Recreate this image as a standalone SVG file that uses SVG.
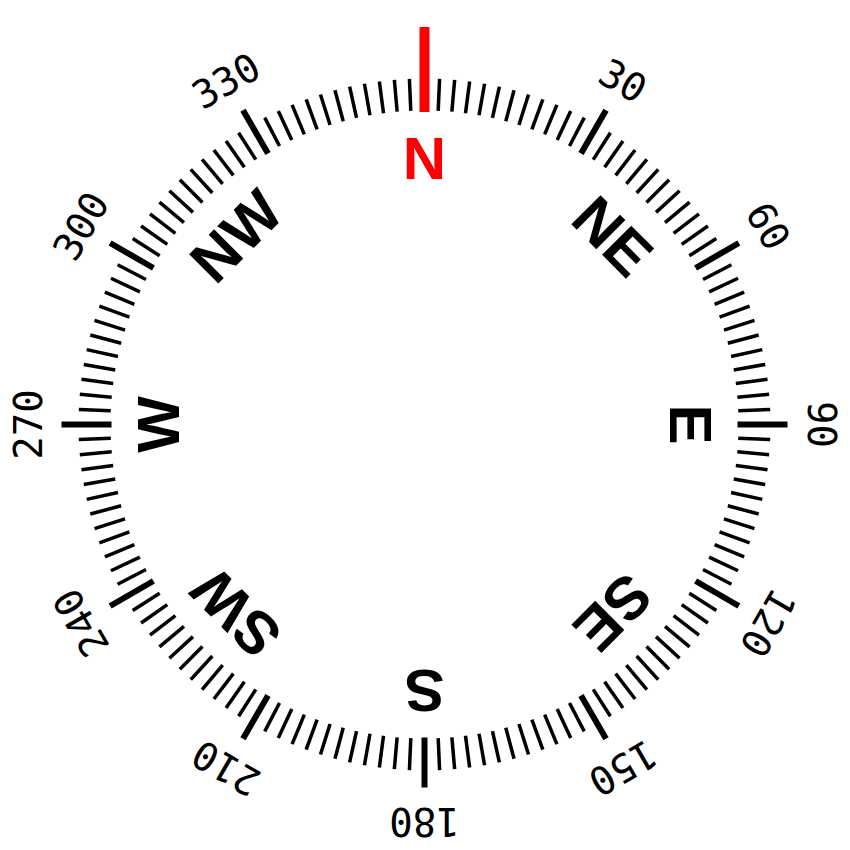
<svg xmlns="http://www.w3.org/2000/svg" xmlns:xlink="http://www.w3.org/1999/xlink" width="850" height="850" viewBox="0 0 850 850">
<style>
.num{font-family:"DejaVu Sans Mono","Liberation Mono",monospace;font-size:39px;fill:#000;text-anchor:middle}
.dir{font-family:"Liberation Sans",Arial,sans-serif;font-weight:bold;font-size:60px;fill:#000;text-anchor:middle}
.minor{stroke:#000;stroke-width:3.5}
.major{stroke:#000;stroke-width:6}
</style>
<defs>
<line id="m" class="minor" x1="424.5" y1="110.5" x2="424.5" y2="78.5"/>
<line id="M" class="major" x1="424.5" y1="111.5" x2="424.5" y2="61.5"/>
</defs>
<rect width="850" height="850" fill="#fff"/>
<g id="ticks">
<use xlink:href="#m" transform="rotate(2.5 424.5 424.5)"/><use xlink:href="#m" transform="rotate(5 424.5 424.5)"/><use xlink:href="#m" transform="rotate(7.5 424.5 424.5)"/><use xlink:href="#m" transform="rotate(10 424.5 424.5)"/><use xlink:href="#m" transform="rotate(12.5 424.5 424.5)"/><use xlink:href="#m" transform="rotate(15 424.5 424.5)"/><use xlink:href="#m" transform="rotate(17.5 424.5 424.5)"/><use xlink:href="#m" transform="rotate(20 424.5 424.5)"/><use xlink:href="#m" transform="rotate(22.5 424.5 424.5)"/><use xlink:href="#m" transform="rotate(25 424.5 424.5)"/><use xlink:href="#m" transform="rotate(27.5 424.5 424.5)"/>
<use xlink:href="#m" transform="rotate(32.5 424.5 424.5)"/><use xlink:href="#m" transform="rotate(35 424.5 424.5)"/><use xlink:href="#m" transform="rotate(37.5 424.5 424.5)"/><use xlink:href="#m" transform="rotate(40 424.5 424.5)"/><use xlink:href="#m" transform="rotate(42.5 424.5 424.5)"/><use xlink:href="#m" transform="rotate(45 424.5 424.5)"/><use xlink:href="#m" transform="rotate(47.5 424.5 424.5)"/><use xlink:href="#m" transform="rotate(50 424.5 424.5)"/><use xlink:href="#m" transform="rotate(52.5 424.5 424.5)"/><use xlink:href="#m" transform="rotate(55 424.5 424.5)"/><use xlink:href="#m" transform="rotate(57.5 424.5 424.5)"/>
<use xlink:href="#m" transform="rotate(62.5 424.5 424.5)"/><use xlink:href="#m" transform="rotate(65 424.5 424.5)"/><use xlink:href="#m" transform="rotate(67.5 424.5 424.5)"/><use xlink:href="#m" transform="rotate(70 424.5 424.5)"/><use xlink:href="#m" transform="rotate(72.5 424.5 424.5)"/><use xlink:href="#m" transform="rotate(75 424.5 424.5)"/><use xlink:href="#m" transform="rotate(77.5 424.5 424.5)"/><use xlink:href="#m" transform="rotate(80 424.5 424.5)"/><use xlink:href="#m" transform="rotate(82.5 424.5 424.5)"/><use xlink:href="#m" transform="rotate(85 424.5 424.5)"/><use xlink:href="#m" transform="rotate(87.5 424.5 424.5)"/>
<use xlink:href="#m" transform="rotate(92.5 424.5 424.5)"/><use xlink:href="#m" transform="rotate(95 424.5 424.5)"/><use xlink:href="#m" transform="rotate(97.5 424.5 424.5)"/><use xlink:href="#m" transform="rotate(100 424.5 424.5)"/><use xlink:href="#m" transform="rotate(102.5 424.5 424.5)"/><use xlink:href="#m" transform="rotate(105 424.5 424.5)"/><use xlink:href="#m" transform="rotate(107.5 424.5 424.5)"/><use xlink:href="#m" transform="rotate(110 424.5 424.5)"/><use xlink:href="#m" transform="rotate(112.5 424.5 424.5)"/><use xlink:href="#m" transform="rotate(115 424.5 424.5)"/><use xlink:href="#m" transform="rotate(117.5 424.5 424.5)"/>
<use xlink:href="#m" transform="rotate(122.5 424.5 424.5)"/><use xlink:href="#m" transform="rotate(125 424.5 424.5)"/><use xlink:href="#m" transform="rotate(127.5 424.5 424.5)"/><use xlink:href="#m" transform="rotate(130 424.5 424.5)"/><use xlink:href="#m" transform="rotate(132.5 424.5 424.5)"/><use xlink:href="#m" transform="rotate(135 424.5 424.5)"/><use xlink:href="#m" transform="rotate(137.5 424.5 424.5)"/><use xlink:href="#m" transform="rotate(140 424.5 424.5)"/><use xlink:href="#m" transform="rotate(142.5 424.5 424.5)"/><use xlink:href="#m" transform="rotate(145 424.5 424.5)"/><use xlink:href="#m" transform="rotate(147.5 424.5 424.5)"/>
<use xlink:href="#m" transform="rotate(152.5 424.5 424.5)"/><use xlink:href="#m" transform="rotate(155 424.5 424.5)"/><use xlink:href="#m" transform="rotate(157.5 424.5 424.5)"/><use xlink:href="#m" transform="rotate(160 424.5 424.5)"/><use xlink:href="#m" transform="rotate(162.5 424.5 424.5)"/><use xlink:href="#m" transform="rotate(165 424.5 424.5)"/><use xlink:href="#m" transform="rotate(167.5 424.5 424.5)"/><use xlink:href="#m" transform="rotate(170 424.5 424.5)"/><use xlink:href="#m" transform="rotate(172.5 424.5 424.5)"/><use xlink:href="#m" transform="rotate(175 424.5 424.5)"/><use xlink:href="#m" transform="rotate(177.5 424.5 424.5)"/>
<use xlink:href="#m" transform="rotate(182.5 424.5 424.5)"/><use xlink:href="#m" transform="rotate(185 424.5 424.5)"/><use xlink:href="#m" transform="rotate(187.5 424.5 424.5)"/><use xlink:href="#m" transform="rotate(190 424.5 424.5)"/><use xlink:href="#m" transform="rotate(192.5 424.5 424.5)"/><use xlink:href="#m" transform="rotate(195 424.5 424.5)"/><use xlink:href="#m" transform="rotate(197.5 424.5 424.5)"/><use xlink:href="#m" transform="rotate(200 424.5 424.5)"/><use xlink:href="#m" transform="rotate(202.5 424.5 424.5)"/><use xlink:href="#m" transform="rotate(205 424.5 424.5)"/><use xlink:href="#m" transform="rotate(207.5 424.5 424.5)"/>
<use xlink:href="#m" transform="rotate(212.5 424.5 424.5)"/><use xlink:href="#m" transform="rotate(215 424.5 424.5)"/><use xlink:href="#m" transform="rotate(217.5 424.5 424.5)"/><use xlink:href="#m" transform="rotate(220 424.5 424.5)"/><use xlink:href="#m" transform="rotate(222.5 424.5 424.5)"/><use xlink:href="#m" transform="rotate(225 424.5 424.5)"/><use xlink:href="#m" transform="rotate(227.5 424.5 424.5)"/><use xlink:href="#m" transform="rotate(230 424.5 424.5)"/><use xlink:href="#m" transform="rotate(232.5 424.5 424.5)"/><use xlink:href="#m" transform="rotate(235 424.5 424.5)"/><use xlink:href="#m" transform="rotate(237.5 424.5 424.5)"/>
<use xlink:href="#m" transform="rotate(242.5 424.5 424.5)"/><use xlink:href="#m" transform="rotate(245 424.5 424.5)"/><use xlink:href="#m" transform="rotate(247.5 424.5 424.5)"/><use xlink:href="#m" transform="rotate(250 424.5 424.5)"/><use xlink:href="#m" transform="rotate(252.5 424.5 424.5)"/><use xlink:href="#m" transform="rotate(255 424.5 424.5)"/><use xlink:href="#m" transform="rotate(257.5 424.5 424.5)"/><use xlink:href="#m" transform="rotate(260 424.5 424.5)"/><use xlink:href="#m" transform="rotate(262.5 424.5 424.5)"/><use xlink:href="#m" transform="rotate(265 424.5 424.5)"/><use xlink:href="#m" transform="rotate(267.5 424.5 424.5)"/>
<use xlink:href="#m" transform="rotate(272.5 424.5 424.5)"/><use xlink:href="#m" transform="rotate(275 424.5 424.5)"/><use xlink:href="#m" transform="rotate(277.5 424.5 424.5)"/><use xlink:href="#m" transform="rotate(280 424.5 424.5)"/><use xlink:href="#m" transform="rotate(282.5 424.5 424.5)"/><use xlink:href="#m" transform="rotate(285 424.5 424.5)"/><use xlink:href="#m" transform="rotate(287.5 424.5 424.5)"/><use xlink:href="#m" transform="rotate(290 424.5 424.5)"/><use xlink:href="#m" transform="rotate(292.5 424.5 424.5)"/><use xlink:href="#m" transform="rotate(295 424.5 424.5)"/><use xlink:href="#m" transform="rotate(297.5 424.5 424.5)"/>
<use xlink:href="#m" transform="rotate(302.5 424.5 424.5)"/><use xlink:href="#m" transform="rotate(305 424.5 424.5)"/><use xlink:href="#m" transform="rotate(307.5 424.5 424.5)"/><use xlink:href="#m" transform="rotate(310 424.5 424.5)"/><use xlink:href="#m" transform="rotate(312.5 424.5 424.5)"/><use xlink:href="#m" transform="rotate(315 424.5 424.5)"/><use xlink:href="#m" transform="rotate(317.5 424.5 424.5)"/><use xlink:href="#m" transform="rotate(320 424.5 424.5)"/><use xlink:href="#m" transform="rotate(322.5 424.5 424.5)"/><use xlink:href="#m" transform="rotate(325 424.5 424.5)"/><use xlink:href="#m" transform="rotate(327.5 424.5 424.5)"/>
<use xlink:href="#m" transform="rotate(332.5 424.5 424.5)"/><use xlink:href="#m" transform="rotate(335 424.5 424.5)"/><use xlink:href="#m" transform="rotate(337.5 424.5 424.5)"/><use xlink:href="#m" transform="rotate(340 424.5 424.5)"/><use xlink:href="#m" transform="rotate(342.5 424.5 424.5)"/><use xlink:href="#m" transform="rotate(345 424.5 424.5)"/><use xlink:href="#m" transform="rotate(347.5 424.5 424.5)"/><use xlink:href="#m" transform="rotate(350 424.5 424.5)"/><use xlink:href="#m" transform="rotate(352.5 424.5 424.5)"/><use xlink:href="#m" transform="rotate(355 424.5 424.5)"/><use xlink:href="#m" transform="rotate(357.5 424.5 424.5)"/>
<use xlink:href="#M" transform="rotate(30 424.5 424.5)"/><use xlink:href="#M" transform="rotate(60 424.5 424.5)"/><use xlink:href="#M" transform="rotate(90 424.5 424.5)"/><use xlink:href="#M" transform="rotate(120 424.5 424.5)"/><use xlink:href="#M" transform="rotate(150 424.5 424.5)"/><use xlink:href="#M" transform="rotate(180 424.5 424.5)"/><use xlink:href="#M" transform="rotate(210 424.5 424.5)"/><use xlink:href="#M" transform="rotate(240 424.5 424.5)"/><use xlink:href="#M" transform="rotate(270 424.5 424.5)"/><use xlink:href="#M" transform="rotate(300 424.5 424.5)"/><use xlink:href="#M" transform="rotate(330 424.5 424.5)"/>
<line x1="424.5" y1="112" x2="424.5" y2="27" stroke="#ff0000" stroke-width="10"/>
</g>
<g id="degrees">
<text class="num" x="424.5" y="41.5" transform="rotate(30 424.5 424.5)">30</text>
<text class="num" x="424.5" y="41.5" transform="rotate(60 424.5 424.5)">60</text>
<text class="num" x="424.5" y="41.5" transform="rotate(90 424.5 424.5)">90</text>
<text class="num" x="424.5" y="41.5" transform="rotate(120 424.5 424.5)">120</text>
<text class="num" x="424.5" y="41.5" transform="rotate(150 424.5 424.5)">150</text>
<text class="num" x="424.5" y="41.5" transform="rotate(180 424.5 424.5)">180</text>
<text class="num" x="424.5" y="41.5" transform="rotate(210 424.5 424.5)">210</text>
<text class="num" x="424.5" y="41.5" transform="rotate(240 424.5 424.5)">240</text>
<text class="num" x="424.5" y="41.5" transform="rotate(270 424.5 424.5)">270</text>
<text class="num" x="424.5" y="41.5" transform="rotate(300 424.5 424.5)">300</text>
<text class="num" x="424.5" y="41.5" transform="rotate(330 424.5 424.5)">330</text>
</g>
<g id="directions">
<text class="dir" x="424.5" y="179" fill="#ff0000" style="fill:#ff0000">N</text>
<text class="dir" x="424.5" y="179" transform="rotate(45 424.5 424.5)">NE</text>
<text class="dir" x="424.5" y="179" transform="rotate(90 424.5 424.5)">E</text>
<text class="dir" x="424.5" y="179" transform="rotate(135 424.5 424.5)">SE</text>
<text class="dir" x="424.5" y="179" transform="rotate(180 424.5 424.5)">S</text>
<text class="dir" x="424.5" y="179" transform="rotate(225 424.5 424.5)">SW</text>
<text class="dir" x="424.5" y="179" transform="rotate(270 424.5 424.5)">W</text>
<text class="dir" x="424.5" y="179" transform="rotate(315 424.5 424.5)">NW</text>
</g>
</svg>
